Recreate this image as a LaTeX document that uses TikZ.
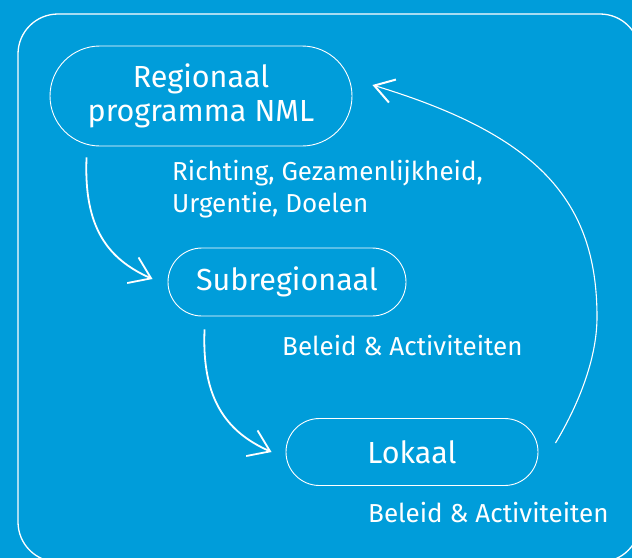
\documentclass[tikz,border=0pt]{standalone}
\usepackage{fontspec}
\setmainfont{Fira Sans}
\usetikzlibrary{arrows.meta}
\definecolor{nmlblue}{RGB}{0,157,218}

\begin{document}
\begin{tikzpicture}[
    x=1pt, y=-1pt,
    % Define Styles
    level/.style={
        draw=white,
        line width=0.9pt,
        inner sep=0pt,
        text=white,
        align=center,
        font=\fontsize{30.5}{33.5}\selectfont
    },
    note/.style={
        anchor=base west,
        inner sep=0pt,
        text=white,
        align=left,
        font=\fontsize{26}{32}\selectfont
    },
    downarrow/.style={
        draw=white,
        line width=1.8pt,
        -{Straight Barb[length=20pt,width=28pt,line width=1.8pt]}
    },
    backarrow/.style={
        draw=white,
        line width=1.1pt,
        -{Straight Barb[length=19pt,width=24pt,line width=2pt]}
    },
    frame/.style={
        draw=white,
        line width=1.3pt,
        rounded corners=40pt
    }
    ]

    % Background and frame
    \useasboundingbox (0,0) rectangle (632,558);
    \fill[nmlblue] (0,0) rectangle (632,558);
    \draw[frame] (18,14) rectangle (640,562);

    % Nodes
    \node[level, minimum width=302pt, minimum height=100pt, rounded corners=50pt]
        (reg) at (201,96) {Regionaal\\programma NML};
    \node[level, minimum width=238pt, minimum height=68pt, rounded corners=34pt]
        (sub) at (287,282) {Subregionaal};
    \node[level, minimum width=252pt, minimum height=67pt, rounded corners=33.5pt]
        (lok) at (412,452) {Lokaal};

    % Labels
    \node[note] (regnote) at (172,212) {Richting, Gezamenlijkheid,\\Urgentie, Doelen};
    \node[note] (subnote) at (282,355) {Beleid \& Activiteiten};
    \node[note] (loknote) at (368,522) {Beleid \& Activiteiten};

    % Arrow ends
    \coordinate (regout) at ([xshift=37pt,yshift=-11pt]reg.south west);
    \coordinate (subin) at ([xshift=-15pt,yshift=3pt]sub.west);
    \coordinate (subout) at ([xshift=37pt,yshift=-13pt]sub.south west);
    \coordinate (lokin) at ([xshift=-14pt]lok.west);
    \coordinate (lokout) at ([xshift=17pt,yshift=9pt]lok.east);
    \coordinate (turn) at (597,317);
    \coordinate (regin) at ([xshift=20pt,yshift=11pt]reg.east);

    % Draw Edges
    \draw[downarrow] (regout) .. controls +(-3,70) and +(-45,-20) .. (subin);
    \draw[downarrow] (subout) .. controls +(-3,70) and +(-45,-20) .. (lokin);
    \draw[backarrow] (lokout) .. controls +(17,-28) and +(0,48) .. (turn)
        .. controls +(0,-117) and +(165,50) .. (regin);

\end{tikzpicture}
\end{document}
